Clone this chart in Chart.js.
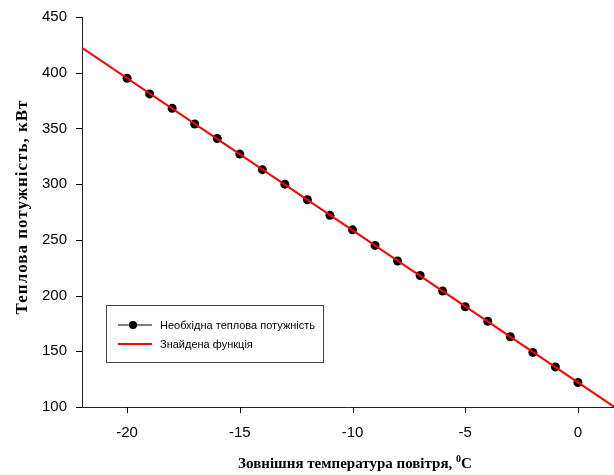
<!DOCTYPE html>
<html>
<head>
<meta charset="utf-8">
<script src="https://cdn.jsdelivr.net/npm/chart.js@4/dist/chart.umd.min.js"></script>
<style>
    html, body { margin: 0; padding: 0; background: #fff; }
</style>
</head>
<body>
<canvas id="myChart" width="614" height="475"></canvas>
<script>
// outside temperature, degrees C
var temps = [-20, -19, -18, -17, -16, -15, -14, -13, -12, -11, -10, -9, -8, -7, -6, -5, -4, -3, -2, -1, 0];
// required heat power, kW
var power = [395, 381, 368, 354, 341, 327, 313, 300, 286, 272, 259, 245, 231, 218, 204, 190, 177, 163, 149, 136, 122];
// found function, end points of the fitted line
var fitX = [-22, 1.6];
var fitY = [422.3, 100.2];

var seriesNames = ["Необхідна теплова потужність", "Знайдена функція"];
var xTitle = "Зовнішня температура повітря, ";
var yTitle = "Теплова потужність, кВт";

var sans = "'Liberation Sans', Arial, sans-serif";
var serif = "'Liberation Serif', 'Times New Roman', serif";

window.onload = function () {
    var pts = temps.map(function (t, i) { return { x: t, y: power[i] }; });
    var fit = fitX.map(function (t, i) { return { x: t, y: fitY[i] }; });

    // legend box inside the plot, like the original
    var boxLegend = {
        id: "boxLegend",
        afterDraw: function (chart) {
            var c = chart.ctx;
            var ds = chart.data.datasets;
            c.save();
            c.strokeStyle = "#444";
            c.lineWidth = 1;
            c.strokeRect(106.5, 305.5, 217, 57);
            c.font = "11px " + sans;
            c.textBaseline = "middle";
            var rows = [325, 344];
            for (var i = 0; i < 2; i++) {
                var y = rows[i];
                c.strokeStyle = ds[i].borderColor;
                c.lineWidth = i == 0 ? 1 : 2;
                c.beginPath();
                c.moveTo(118, y);
                c.lineTo(152, y);
                c.stroke();
                if (ds[i].pointRadius > 0) {
                    c.fillStyle = ds[i].pointBackgroundColor;
                    c.beginPath();
                    c.arc(133, y, 4, 0, Math.PI * 2);
                    c.fill();
                }
                c.fillStyle = "#000";
                c.fillText(ds[i].label, 160, y + 1);
            }
            c.restore();
        }
    };

    // outward tick marks, taken from the scales
    var tickMarks = {
        id: "tickMarks",
        afterDraw: function (chart) {
            var c = chart.ctx;
            var xs = chart.scales.x, ys = chart.scales.y;
            var a = chart.chartArea;
            c.save();
            c.strokeStyle = "#000";
            c.lineWidth = 1;
            c.beginPath();
            xs.ticks.forEach(function (t) {
                var px = Math.round(xs.getPixelForValue(t.value)) + 0.5;
                c.moveTo(px, a.bottom);
                c.lineTo(px, a.bottom + 6);
            });
            ys.ticks.forEach(function (t) {
                var py = Math.round(ys.getPixelForValue(t.value)) + 0.5;
                c.moveTo(a.left, py);
                c.lineTo(a.left - 6, py);
            });
            c.stroke();
            c.restore();
        }
    };

    // axis titles (x one has a superscript 0)
    var axisTitles = {
        id: "axisTitles",
        afterDraw: function (chart) {
            var c = chart.ctx;
            c.save();
            c.fillStyle = "#000";
            c.textBaseline = "alphabetic";
            c.font = "bold 15px " + serif;
            var w1 = c.measureText(xTitle).width;
            c.font = "bold 10px " + serif;
            var w2 = c.measureText("0").width;
            c.font = "bold 15px " + serif;
            var w3 = c.measureText("C").width;
            var x0 = 355 - (w1 + w2 + w3) / 2;
            var y0 = 468;
            c.fillText(xTitle, x0, y0);
            c.font = "bold 10px " + serif;
            c.fillText("0", x0 + w1, y0 - 6);
            c.font = "bold 15px " + serif;
            c.fillText("C", x0 + w1 + w2, y0);

            c.translate(27, 207);
            c.rotate(-Math.PI / 2);
            c.font = "bold 17px " + serif;
            c.letterSpacing = "1px";
            c.textAlign = "center";
            c.fillText(yTitle, 0, 0);
            c.restore();
        }
    };

    var ctx = document.getElementById("myChart").getContext("2d");
    var chart = new Chart(ctx, {
        type: "scatter",
        data: {
            datasets: [
                {
                    label: seriesNames[0],
                    data: pts,
                    showLine: true,
                    borderColor: "#000000",
                    borderWidth: 1,
                    pointRadius: 4.5,
                    pointBackgroundColor: "#000000",
                    pointBorderWidth: 0,
                    order: 1
                },
                {
                    label: seriesNames[1],
                    data: fit,
                    showLine: true,
                    borderColor: "#ff0000",
                    borderWidth: 2,
                    pointRadius: 0,
                    order: 0
                }
            ]
        },
        options: {
            responsive: false,
            animation: false,
            layout: { autoPadding: false, padding: { top: 17, right: 0, left: 0, bottom: 0 } },
            plugins: {
                legend: { display: false },
                tooltip: { enabled: false }
            },
            scales: {
                x: {
                    type: "linear",
                    min: fitX[0],
                    max: fitX[1],
                    afterFit: function (s) {
                        s.height = 68;
                        s.paddingLeft = 0;
                        s.paddingRight = 0;
                    },
                    border: { color: "#222", width: 1 },
                    grid: { display: false },
                    ticks: {
                        stepSize: 5,
                        includeBounds: false,
                        color: "#000",
                        font: { family: sans, size: 15 },
                        padding: 9,
                        maxRotation: 0
                    }
                },
                y: {
                    min: 100,
                    max: 450,
                    afterFit: function (s) {
                        s.width = 82;
                        s.paddingTop = 0;
                        s.paddingBottom = 0;
                    },
                    border: { color: "#222", width: 1 },
                    grid: { display: false },
                    ticks: {
                        stepSize: 50,
                        color: "#000",
                        font: { family: sans, size: 15 },
                        padding: 7
                    }
                }
            }
        },
        plugins: [boxLegend, tickMarks, axisTitles]
    });
};
</script>
</body>
</html>
